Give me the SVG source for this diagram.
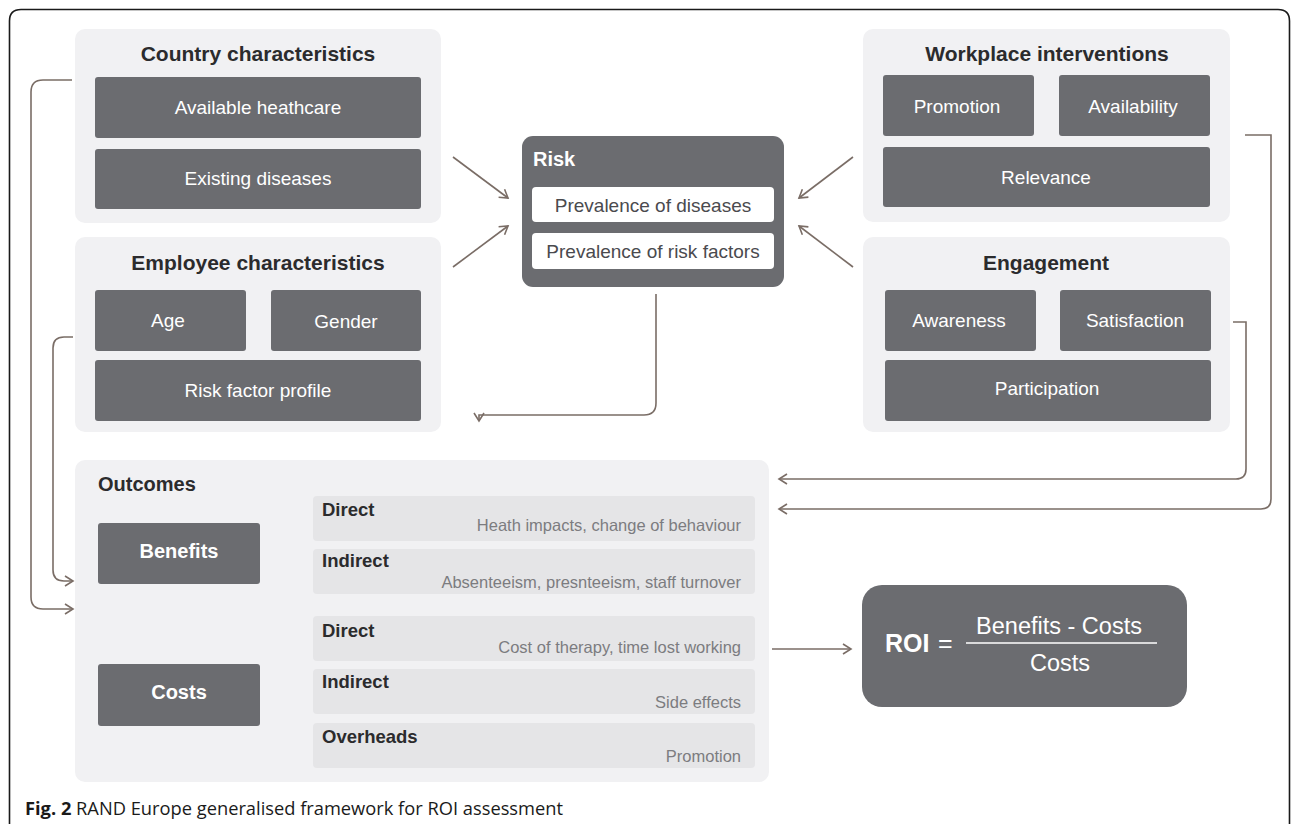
<svg xmlns="http://www.w3.org/2000/svg" width="1295" height="824" viewBox="0 0 1295 824">
<style>
.panel{fill:#f1f1f3}
.dark{fill:#6b6c70}
.row{fill:#e5e5e7}
.white{fill:#ffffff}
.title{font-family:"Liberation Sans",Arial,sans-serif;font-weight:bold;font-size:21px;fill:#2b2b2d;text-anchor:middle}
.item{font-family:"Liberation Sans",Arial,sans-serif;font-size:19px;fill:#ffffff;text-anchor:middle}
.risk{font-family:"Liberation Sans",Arial,sans-serif;font-size:19px;fill:#4a4a4e;text-anchor:middle}
.lbl{font-family:"Liberation Sans",Arial,sans-serif;font-weight:bold;font-size:18.5px;fill:#2b2b2d}
.desc{font-family:"Liberation Sans",Arial,sans-serif;font-size:16.5px;fill:#7c7c80;text-anchor:end}
.big{font-family:"Liberation Sans",Arial,sans-serif;font-weight:bold;font-size:20px;fill:#ffffff;text-anchor:middle}
.conn{fill:none;stroke:#7a6d66;stroke-width:1.6}
</style>
<defs>
<marker id="ah" viewBox="-10 -6 12 12" refX="0" refY="0" markerWidth="12" markerHeight="12" markerUnits="userSpaceOnUse" orient="auto">
<path d="M-8,-5 L0,0 L-8,5" fill="none" stroke="#7a6d66" stroke-width="1.6"/>
</marker>
</defs>
<rect x="0" y="0" width="1295" height="824" fill="#ffffff"/>
<path d="M9.5,824 V21 Q9.5,9.5 21,9.5 H1278 Q1289.5,9.5 1289.5,21 V824" fill="none" stroke="#1a1a1a" stroke-width="1.6"/>

<g id="country">
<rect class="panel" x="75" y="29" width="366" height="194" rx="10"/>
<text class="title" x="258" y="61">Country characteristics</text>
<rect class="dark" x="95" y="77" width="326" height="61" rx="3"/>
<text class="item" x="258" y="114">Available heathcare</text>
<rect class="dark" x="95" y="149" width="326" height="60" rx="3"/>
<text class="item" x="258" y="185">Existing diseases</text>
</g>

<g id="employee">
<rect class="panel" x="75" y="237" width="366" height="195" rx="10"/>
<text class="title" x="258" y="270">Employee characteristics</text>
<rect class="dark" x="95" y="290" width="151" height="61" rx="3"/>
<text class="item" x="168" y="327">Age</text>
<rect class="dark" x="271" y="290" width="150" height="61" rx="3"/>
<text class="item" x="346" y="328">Gender</text>
<rect class="dark" x="95" y="360" width="326" height="61" rx="3"/>
<text class="item" x="258" y="397">Risk factor profile</text>
</g>

<g id="workplace">
<rect class="panel" x="863" y="29" width="367" height="193" rx="10"/>
<text class="title" x="1047" y="61">Workplace interventions</text>
<rect class="dark" x="883" y="75" width="151" height="61" rx="3"/>
<text class="item" x="957" y="113">Promotion</text>
<rect class="dark" x="1059" y="75" width="151" height="61" rx="3"/>
<text class="item" x="1133" y="113">Availability</text>
<rect class="dark" x="883" y="147" width="327" height="60" rx="3"/>
<text class="item" x="1046" y="184">Relevance</text>
</g>

<g id="engagement">
<rect class="panel" x="863" y="237" width="367" height="195" rx="10"/>
<text class="title" x="1046" y="270">Engagement</text>
<rect class="dark" x="885" y="290" width="151" height="61" rx="3"/>
<text class="item" x="959" y="327">Awareness</text>
<rect class="dark" x="1060" y="290" width="151" height="61" rx="3"/>
<text class="item" x="1135" y="327">Satisfaction</text>
<rect class="dark" x="885" y="360" width="326" height="61" rx="3"/>
<text class="item" x="1047" y="395">Participation</text>
</g>

<g id="risk">
<rect class="dark" x="522" y="136" width="262" height="151" rx="11"/>
<text x="533" y="166" font-family="'Liberation Sans',Arial,sans-serif" font-weight="bold" font-size="20" fill="#ffffff">Risk</text>
<rect class="white" x="532" y="187" width="242" height="35" rx="4"/>
<text class="risk" x="653" y="212">Prevalence of diseases</text>
<rect class="white" x="532" y="233" width="242" height="36" rx="4"/>
<text class="risk" x="653" y="258">Prevalence of risk factors</text>
</g>

<g id="outcomes">
<rect class="panel" x="75" y="460" width="694" height="322" rx="10"/>
<text x="98" y="491" font-family="'Liberation Sans',Arial,sans-serif" font-weight="bold" font-size="20" fill="#2b2b2d">Outcomes</text>
<rect class="dark" x="98" y="523" width="162" height="61" rx="3"/>
<text class="big" x="179" y="558">Benefits</text>
<rect class="dark" x="98" y="664" width="162" height="62" rx="3"/>
<text class="big" x="179" y="699">Costs</text>
<rect class="row" x="313" y="496" width="442" height="45" rx="4"/>
<text class="lbl" x="322" y="516">Direct</text>
<text class="desc" x="741" y="531">Heath impacts, change of behaviour</text>
<rect class="row" x="313" y="549" width="442" height="45" rx="4"/>
<text class="lbl" x="322" y="567">Indirect</text>
<text class="desc" x="741" y="588">Absenteeism, presnteeism, staff turnover</text>
<rect class="row" x="313" y="616" width="442" height="45" rx="4"/>
<text class="lbl" x="322" y="637">Direct</text>
<text class="desc" x="741" y="653">Cost of therapy, time lost working</text>
<rect class="row" x="313" y="669" width="442" height="45" rx="4"/>
<text class="lbl" x="322" y="688">Indirect</text>
<text class="desc" x="741" y="708">Side effects</text>
<rect class="row" x="313" y="723" width="442" height="45" rx="4"/>
<text class="lbl" x="322" y="743">Overheads</text>
<text class="desc" x="741" y="762">Promotion</text>
</g>

<g id="roi">
<rect class="dark" x="862" y="585" width="325" height="122" rx="20"/>
<text x="885" y="652" font-family="'Liberation Sans',Arial,sans-serif" font-weight="bold" font-size="25" fill="#ffffff">ROI</text>
<text x="938" y="652" font-family="'Liberation Sans',Arial,sans-serif" font-size="25" fill="#ffffff">=</text>
<line x1="966" y1="643" x2="1157" y2="643" stroke="#ffffff" stroke-width="1.5"/>
<text x="1059" y="634" font-family="'Liberation Sans',Arial,sans-serif" font-size="23.5" fill="#ffffff" text-anchor="middle">Benefits - Costs</text>
<text x="1060" y="671" font-family="'Liberation Sans',Arial,sans-serif" font-size="23.5" fill="#ffffff" text-anchor="middle">Costs</text>
</g>

<g id="connectors">
<line class="conn" x1="453" y1="157" x2="508" y2="198" marker-end="url(#ah)"/>
<line class="conn" x1="453" y1="267" x2="508" y2="226" marker-end="url(#ah)"/>
<line class="conn" x1="853" y1="157" x2="799" y2="198" marker-end="url(#ah)"/>
<line class="conn" x1="853" y1="267" x2="799" y2="226" marker-end="url(#ah)"/>
<path class="conn" d="M656,294 V403 Q656,415 644,415 H479 V421" marker-end="url(#ah)"/>
<path class="conn" d="M72,80 H43 Q31,80 31,92 V597 Q31,609 43,609 H73" marker-end="url(#ah)"/>
<path class="conn" d="M73,337 H64 Q53,337 53,348 V570 Q53,581 64,581 H73" marker-end="url(#ah)"/>
<path class="conn" d="M1233,322 H1246 V469 Q1246,479 1236,479 H779" marker-end="url(#ah)"/>
<path class="conn" d="M1245,135 H1271 V499 Q1271,509 1261,509 H779" marker-end="url(#ah)"/>
<line class="conn" x1="772" y1="649" x2="851" y2="649" marker-end="url(#ah)"/>
</g>

<text x="25" y="815" font-family="'Open Sans','Noto Sans',sans-serif" font-size="17.5" fill="#1a1a1a" textLength="538" lengthAdjust="spacingAndGlyphs"><tspan font-weight="bold">Fig. 2</tspan> RAND Europe generalised framework for ROI assessment</text>
</svg>
